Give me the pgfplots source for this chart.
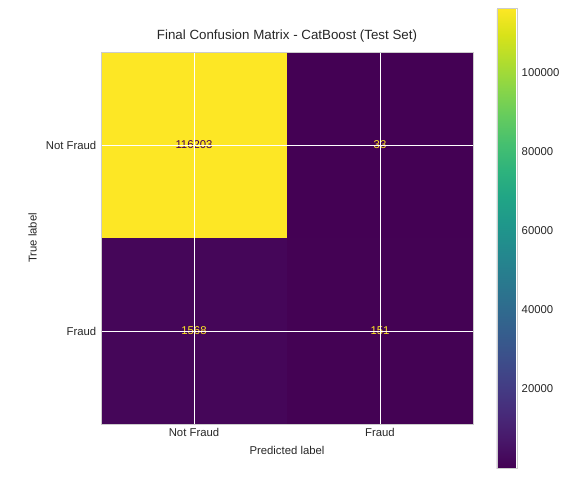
\documentclass[border=0pt]{standalone}
\usepackage{pgfplots}
\pgfplotsset{compat=1.18}
\usepackage{fontspec}
\setmainfont{Liberation Sans}
\definecolor{fr}{HTML}{CCCCCC}
\definecolor{yl}{RGB}{253,231,37}
\definecolor{pu}{RGB}{68,1,84}
\begin{document}
\begin{tikzpicture}
\begin{axis}[name=ax,
  scale only axis, width=279pt, height=279pt,
  xmin=-0.5, xmax=1.5, ymin=-0.5, ymax=1.5, y dir=reverse,
  xtick={0,1}, xticklabels={Not Fraud, Fraud},
  ytick={0,1}, yticklabels={Not Fraud, Fraud},
  tick style={draw=none},
  ticklabel style={font=\fontsize{8.5pt}{10pt}\selectfont, color=black!85},
  xlabel={Predicted label}, ylabel={True label},
  label style={font=\fontsize{8.5pt}{10pt}\selectfont, color=black!85},
  title={Final Confusion Matrix - CatBoost (Test Set)},
  title style={font=\fontsize{10pt}{12pt}\selectfont, color=black!85, yshift=-2pt},
  grid=major, grid style={white, line width=0.6pt},
  axis line style={fr},
  axis on top,
  colormap/viridis,
  point meta min=33, point meta max=116203,
  colorbar,
  colorbar style={
    at={(1.0645,0.5)}, anchor=west,
    height=345pt, width=15pt,
    ytick={20000,40000,60000,80000,100000},
    yticklabels={20000,40000,60000,80000,100000},
    scaled y ticks=false,
    yticklabel style={font=\fontsize{8.5pt}{10pt}\selectfont, color=black!85},
    axis line style={fr},
    tick style={draw=none},
  },
]
\addplot[matrix plot*, point meta=explicit, mesh/cols=2] coordinates {
  (0,0) [116203] (1,0) [33]
  (0,1) [1568] (1,1) [151]
};
\node[color=pu, font=\fontsize{8.5pt}{10pt}\selectfont] at (axis cs:0,0) {116203};
\node[color=yl, font=\fontsize{8.5pt}{10pt}\selectfont] at (axis cs:1,0) {33};
\node[color=yl, font=\fontsize{8.5pt}{10pt}\selectfont] at (axis cs:0,1) {1568};
\node[color=yl, font=\fontsize{8.5pt}{10pt}\selectfont] at (axis cs:1,1) {151};
\end{axis}
\pgfresetboundingbox
\path ([shift={(-75.75pt,-42.75pt)}]ax.south west) rectangle ([shift={(84pt,39pt)}]ax.north east);
\end{tikzpicture}
\end{document}
